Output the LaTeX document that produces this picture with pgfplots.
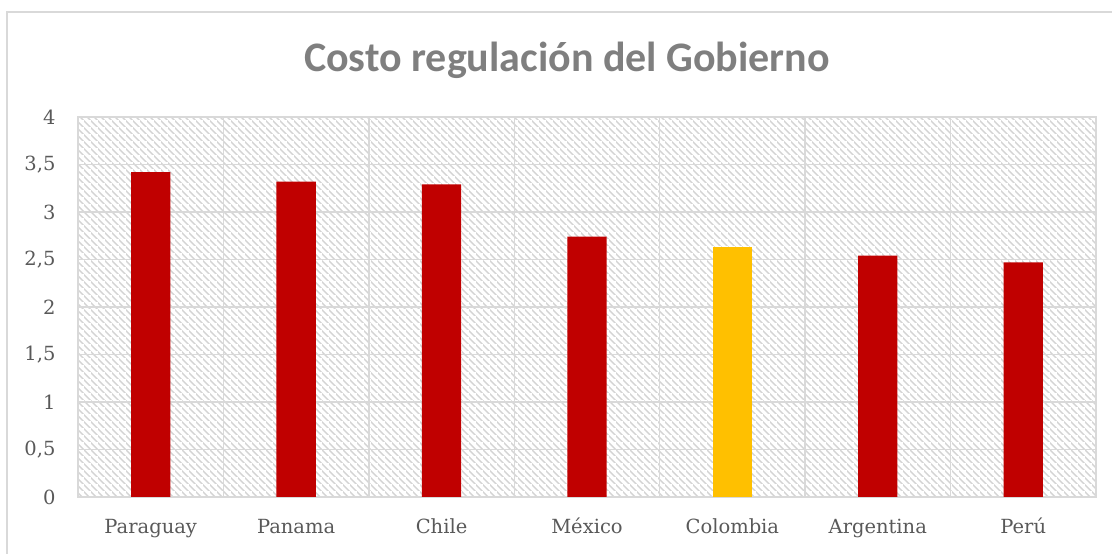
\documentclass[border=0pt]{standalone}
\usepackage{fontspec}
\setmainfont{DejaVu Serif}
\newfontfamily\titlefont{Carlito}
\usepackage{pgfplots}
\pgfplotsset{compat=1.18}
\usetikzlibrary{patterns,patterns.meta}
\definecolor{barred}{HTML}{C00000}
\definecolor{baryel}{HTML}{FFC000}
\definecolor{gridc}{HTML}{D9D9D9}
\definecolor{hatchc}{HTML}{D4D4D4}
\definecolor{txt}{HTML}{595959}
\definecolor{ttl}{HTML}{7F7F7F}
\pgfdeclarepattern{
  name=excelhatch, type=uncolored,
  bottom left={\pgfqpoint{0pt}{0pt}}, top right={\pgfqpoint{7pt}{7pt}},
  tile size={\pgfqpoint{7pt}{7pt}},
  code={
    \pgfsetlinewidth{1.7pt}
    \pgfpathmoveto{\pgfqpoint{-1pt}{8pt}}\pgfpathlineto{\pgfqpoint{8pt}{-1pt}}
    \pgfusepath{stroke}
  }
}
\begin{document}
\begin{tikzpicture}[x=1pt,y=1pt]
\useasboundingbox (0,0) rectangle (1112,554);
\draw[gridc, line width=1.5pt] (7,-2) -- (7,542) -- (1114,542);
\node[font=\titlefont\bfseries\fontsize{42}{46}\selectfont, text=ttl] at (567,494) {Costo regulación del Gobierno};
\begin{axis}[
  at={(78pt,57pt)}, anchor=south west,
  scale only axis, width=1018pt, height=380pt,
  xmin=-0.5, xmax=6.5, ymin=0, ymax=4,
  ytick={0,0.5,1,1.5,2,2.5,3,3.5,4},
  xtick={0,1,2,3,4,5,6},
  xticklabels={Paraguay,Panama,Chile,México,Colombia,Argentina,Perú},
  minor xtick={-0.5,0.5,1.5,2.5,3.5,4.5,5.5,6.5},
  xminorgrids=true, ymajorgrids=true, xmajorgrids=false,
  grid style={gridc, line width=1.5pt},
  minor grid style={gridc, line width=1.5pt},
  axis line style={gridc, line width=1.5pt},
  major tick length=0pt, minor tick length=0pt,
  tick style={draw=none},
  axis background/.style={pattern=excelhatch, pattern color=hatchc},
  ticklabel style={font=\fontsize{19.5}{22}\selectfont, text=txt},
  xticklabel style={anchor=base, yshift=-37pt},
  yticklabel style={xshift=-19pt},
  /pgf/number format/use comma,
  /pgf/number format/assume math mode=true,
  ybar, bar width=0.27, bar shift=0pt,
]
\addplot[fill=barred, draw=none] coordinates {(0,3.42) (1,3.32) (2,3.29) (3,2.74) (5,2.54) (6,2.47)};
\addplot[fill=baryel, draw=none] coordinates {(4,2.63)};
\end{axis}
\end{tikzpicture}
\end{document}
